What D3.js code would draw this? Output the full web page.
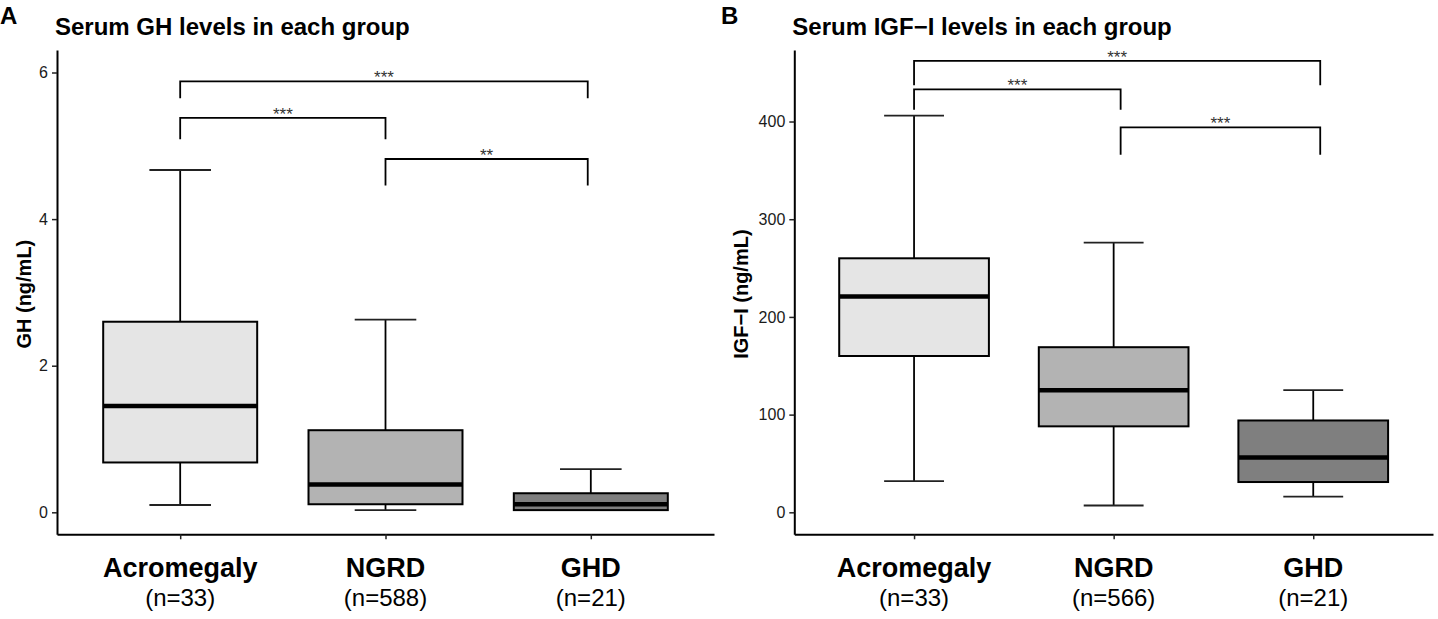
<!DOCTYPE html>
<html>
  <head>
    <meta charset="utf-8">
    <title>Serum GH and IGF-I levels in each group</title>
    <script src="https://d3js.org/d3.v7.min.js"></script>
    <style>
      body { margin: 0; background: #fff; }
      svg { font-family: "Liberation Sans", Arial, sans-serif; }
    </style>
  </head>
  <body>
    <div id="chart"></div>
    <script>
      // groups and sample sizes
      var groups = ["Acromegaly", "NGRD", "GHD"];
      var ghN = ["(n=33)", "(n=588)", "(n=21)"];
      var igfN = ["(n=33)", "(n=566)", "(n=21)"];

      // GH (ng/mL) box statistics
      var ghLow  = [0.10, 0.03, 0.03];
      var ghQ1   = [0.68, 0.11, 0.03];
      var ghMed  = [1.45, 0.38, 0.11];
      var ghQ3   = [2.60, 1.12, 0.26];
      var ghHigh = [4.67, 2.63, 0.59];
      var ghTicks = [0, 2, 4, 6];

      // IGF-I (ng/mL) box statistics
      var igfLow  = [32, 7, 16];
      var igfQ1   = [160, 88, 31];
      var igfMed  = [221, 125, 56];
      var igfQ3   = [260, 169, 94];
      var igfHigh = [406, 276, 125];
      var igfTicks = [0, 100, 200, 300, 400];

      // significance brackets: group index from/to, bar height, tip end, label
      var ghBrackets = [
        { from: 0, to: 1.985, y: 5.88, tip: 5.65, label: "***" },
        { from: 0, to: 1, y: 5.38, tip: 5.09, label: "***" },
        { from: 1, to: 1.985, y: 4.82, tip: 4.46, label: "**" }
      ];
      var igfBrackets = [
        { from: 0, to: 2.035, y: 462, tip: 437, label: "***" },
        { from: 0, to: 1.035, y: 433, tip: 412, label: "***" },
        { from: 1.035, to: 2.035, y: 394, tip: 366, label: "***" }
      ];

      var fills = ["#e5e5e5", "#b3b3b3", "#7f7f7f"];

      var svg = d3.select("#chart").append("svg")
          .attr("width", 1438)
          .attr("height", 619);

      function drawPanel(p) {
        var g = svg.append("g");

        var x = d3.scalePoint()
            .domain(groups)
            .range([p.left, p.right])
            .padding(0.6);
        var step = x.step();
        // position in group units (0 = first group) for the brackets
        var xi = d3.scaleLinear().domain([0, 1]).range([x(groups[0]), x(groups[1])]);

        var y = d3.scaleLinear()
            .domain(p.yDomain)
            .range([p.bottom, p.top]);

        // panel letter and title
        g.append("text")
         .attr("x", p.letterX).attr("y", 24)
         .style("font-size", "24px").style("font-weight", "bold")
         .text(p.letter);
        g.append("text")
         .attr("x", p.left - 2).attr("y", 35)
         .style("font-size", "24px").style("font-weight", "bold")
         .text(p.title);

        // y axis
        var ya = g.append("g")
         .attr("transform", "translate(" + p.left + ",0)")
         .call(d3.axisLeft(y).tickValues(p.ticks).tickFormat(d3.format("d"))
               .tickSize(5).tickSizeOuter(0).tickPadding(4));
        ya.select(".domain").attr("stroke", "#000").attr("stroke-width", 2);
        ya.selectAll(".tick line").attr("stroke", "#222").attr("stroke-width", 1.5);
        ya.selectAll(".tick text")
          .style("font-size", "16px").style("font-family", "Liberation Sans, Arial, sans-serif")
          .attr("fill", "#1a1a1a");

        // x axis
        var xa = g.append("g")
         .attr("transform", "translate(0," + p.bottom + ")")
         .call(d3.axisBottom(x).tickSize(5).tickSizeOuter(0).tickFormat(""));
        xa.select(".domain").attr("stroke", "#000").attr("stroke-width", 2);
        xa.selectAll(".tick line").attr("stroke", "#222").attr("stroke-width", 1.5);

        // category labels with counts
        groups.forEach(function(name, i) {
          g.append("text")
           .attr("x", x(name)).attr("y", 577)
           .attr("text-anchor", "middle")
           .style("font-size", "27px").style("font-weight", "bold")
           .text(name);
          g.append("text")
           .attr("x", x(name)).attr("y", 606)
           .attr("text-anchor", "middle")
           .style("font-size", "24px")
           .text(p.n[i]);
        });

        // y axis title
        g.append("text")
         .attr("transform", "translate(" + p.labelX + "," + ((p.top + p.bottom) / 2 + 2) + ") rotate(-90)")
         .attr("text-anchor", "middle")
         .style("font-size", "20px").style("font-weight", "bold")
         .text(p.ylab);

        // boxes
        var bw = step * 0.75, cw = step * 0.3;
        groups.forEach(function(name, i) {
          var cx = x(name);
          var box = g.append("g");
          box.append("line")
             .attr("x1", cx).attr("x2", cx)
             .attr("y1", y(p.high[i])).attr("y2", y(p.q3[i]))
             .attr("stroke", "#000").attr("stroke-width", 1.8);
          box.append("line")
             .attr("x1", cx).attr("x2", cx)
             .attr("y1", y(p.q1[i])).attr("y2", y(p.low[i]))
             .attr("stroke", "#000").attr("stroke-width", 1.8);
          [p.high[i], p.low[i]].forEach(function(v) {
            box.append("line")
               .attr("x1", cx - cw / 2).attr("x2", cx + cw / 2)
               .attr("y1", y(v)).attr("y2", y(v))
               .attr("stroke", "#222").attr("stroke-width", 1.8);
          });
          box.append("rect")
             .attr("x", cx - bw / 2).attr("width", bw)
             .attr("y", y(p.q3[i])).attr("height", y(p.q1[i]) - y(p.q3[i]))
             .attr("fill", fills[i]).attr("stroke", "#000").attr("stroke-width", 2);
          box.append("line")
             .attr("x1", cx - bw / 2).attr("x2", cx + bw / 2)
             .attr("y1", y(p.med[i])).attr("y2", y(p.med[i]))
             .attr("stroke", "#000").attr("stroke-width", 4.5);
        });

        // significance brackets
        p.brackets.forEach(function(b) {
          var x1 = xi(b.from), x2 = xi(b.to);
          g.append("path")
           .attr("d", "M" + x1 + "," + y(b.tip) + "V" + y(b.y) + "H" + x2 + "V" + y(b.tip))
           .attr("fill", "none").attr("stroke", "#000").attr("stroke-width", 1.8);
          g.append("text")
           .attr("x", (x1 + x2) / 2).attr("y", y(b.y) + 2)
           .attr("text-anchor", "middle")
           .style("font-size", "17px").attr("fill", "#333")
           .text(b.label);
        });
      }

      drawPanel({
        letter: "A", letterX: 0, title: "Serum GH levels in each group",
        ylab: "GH (ng/mL)", labelX: 31,
        left: 57, right: 714, top: 50, bottom: 534.3,
        yDomain: [-0.30, 6.307], ticks: ghTicks, n: ghN,
        low: ghLow, q1: ghQ1, med: ghMed, q3: ghQ3, high: ghHigh,
        brackets: ghBrackets
      });

      drawPanel({
        letter: "B", letterX: 721, title: "Serum IGF\u2212I levels in each group",
        ylab: "IGF\u2212I (ng/mL)", labelX: 748,
        left: 794.3, right: 1433, top: 50, bottom: 534.3,
        yDomain: [-22.5, 473.2], ticks: igfTicks, n: igfN,
        low: igfLow, q1: igfQ1, med: igfMed, q3: igfQ3, high: igfHigh,
        brackets: igfBrackets
      });
    </script>
  </body>
</html>
